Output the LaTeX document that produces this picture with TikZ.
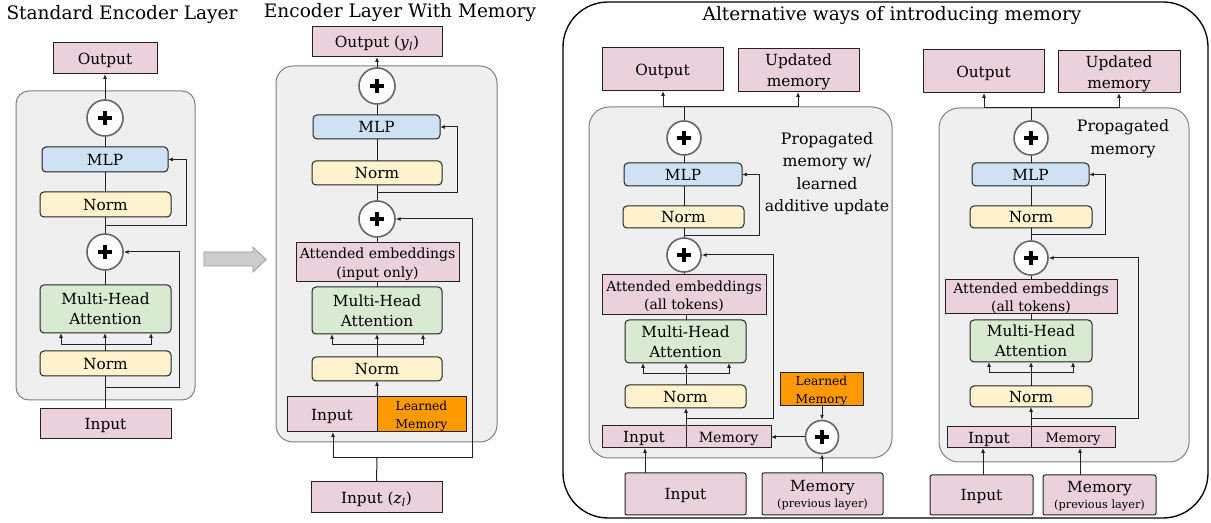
\documentclass[tikz,border=0pt]{standalone}
\usepackage{fontspec}
\setmainfont{DejaVu Serif}
\usetikzlibrary{arrows.meta}
\definecolor{pinkc}{HTML}{EAD1DC}
\definecolor{bluec}{HTML}{CFE2F3}
\definecolor{yellowc}{HTML}{FFF2CC}
\definecolor{greenc}{HTML}{D9EAD3}
\definecolor{orangec}{HTML}{FF9900}
\definecolor{contc}{HTML}{EFEFEF}
\definecolor{contb}{HTML}{808080}
\definecolor{linec}{HTML}{222222}
\definecolor{plusb}{HTML}{666666}
\definecolor{garrowf}{HTML}{CCCCCC}
\definecolor{garrowb}{HTML}{999999}
\newcommand\lblfont{\fontsize{11.5}{15}\selectfont}
\newcommand\attfont{\fontsize{10.5}{13.8}\selectfont}
\newcommand\lmfont{\fontsize{9.2}{13.7}\selectfont}
\newcommand\ttlfont{\fontsize{13.9}{16}\selectfont}
\newcommand\propfont{\fontsize{11.8}{16.9}\selectfont}
\newcommand\prevfont{\fontsize{8.5}{10}\selectfont}
\begin{document}
\begin{tikzpicture}[x=0.75pt,y=-0.75pt,
  >={Latex[length=3.6pt,width=3pt]},
  conn/.style={draw=linec, line width=0.75pt},
  cont/.style={draw=contb, fill=contc, line width=0.75pt},
  bx/.style={draw=linec, line width=0.75pt, inner sep=0pt, outer sep=0pt, align=center,
    font=\lblfont, text depth=0pt},
  sl/.style={text height=8.9pt},
  ml/.style={text height={}},
  corners/.style n args={4}{at={({(#1+#3)/2},{(#2+#4)/2})},
    minimum width={(#3-#1)*0.75pt}, minimum height={(#4-#2)*0.75pt}},
  pinkb/.style={bx, sl, fill=pinkc},
  attb/.style={bx, ml, fill=pinkc, font=\attfont},
  pinkr/.style={bx, sl, fill=pinkc, rounded corners=1.5pt},
  blueb/.style={bx, sl, fill=bluec, rounded corners=3pt},
  yellowb/.style={bx, sl, fill=yellowc, rounded corners=3pt},
  greenb/.style={bx, ml, fill=greenc, rounded corners=3pt},
  orangeb/.style={bx, ml, fill=orangec, font=\lmfont},
  plus/.style={circle, draw=plusb, fill=white, line width=1.2pt, inner sep=0pt, minimum size=#1,
    path picture={
      \draw[line width=2.3pt,black] ([xshift=-5pt]path picture bounding box.center) -- ([xshift=5pt]path picture bounding box.center);
      \draw[line width=2.3pt,black] ([yshift=-5pt]path picture bounding box.center) -- ([yshift=5pt]path picture bounding box.center);}},
  plus/.default=25.5pt,
  ttl/.style={font=\ttlfont, inner sep=0pt, anchor=base},
  ptext/.style={font=\propfont, align=center, inner sep=0pt}
]
\useasboundingbox (0,0) rectangle (1211,523);

% ================= Panel 1 =================
\node[ttl] (t1) at (122,19.3) {Standard Encoder Layer};
\draw[cont, rounded corners=9.75pt] (16,91) rectangle (195,400);
\node[pinkb, corners={53}{43}{157}{74}] (out1) {Output};
\node[plus=27pt] (p1a) at (105,118) {};
\node[blueb, corners={42}{147}{168}{172}] (mlp1) {MLP};
\node[yellowb, corners={40}{192}{171}{217}] (nrm1a) {Norm};
\node[plus=27pt] (p1b) at (105,252) {};
\node[greenb, corners={40}{285}{171}{333}] (mha1) {Multi-Head\\Attention};
\node[yellowb, corners={40}{351}{171}{376}] (nrm1b) {Norm};
\node[pinkb, corners={40}{409}{171}{439}] (in1) {Input};

\draw[conn] (in1.north -| p1b) -- (nrm1b.south -| p1b);
\coordinate (b1l) at (61,345);
\coordinate (b1r) at (151,345);
\draw[conn,->] (nrm1b.north -| p1b) -- (p1b |- mha1.south);
\draw[conn] (b1l) -- (b1r);
\draw[conn,->] (b1l) -- (b1l |- mha1.south);
\draw[conn,->] (b1r) -- (b1r |- mha1.south);
\draw[conn] (mha1.north -| p1b) -- (p1b.south);
\draw[conn] (p1b.north) -- (nrm1a.south -| p1b);
\draw[conn] (nrm1a.north -| p1b) -- (mlp1.south -| p1b);
\draw[conn] (mlp1.north -| p1b) -- (p1a.south);
\draw[conn,->] (p1a.north) -- (out1.south -| p1a);
\coordinate (s1a) at (105,226);
\coordinate (s1b) at (186,226);
\draw[conn,->] (s1a) -- (s1b) |- (mlp1.east);
\coordinate (s2a) at (105,388);
\coordinate (s2b) at (179,388);
\draw[conn,->] (s2a) -- (s2b) |- (p1b.east);

% gray block arrow
\draw[draw=garrowb, fill=garrowf, line width=0.6pt]
  (204,252) -- (253,252) -- (253,247) -- (266,259.5) -- (253,272) -- (253,266) -- (204,266) -- cycle;

% ================= Panel 2 =================
\node[ttl] (t2) at (400,17.5) {Encoder Layer With Memory};
\draw[cont, rounded corners=12.75pt] (276,66) rectangle (497,442);
\node[pinkb, corners={312}{27}{442}{57}] (out2) {Output (\textit{y}\textsubscript{\textit{l}})};
\node[plus=27pt] (p2a) at (377,86) {};
\node[blueb, corners={313}{115}{440}{139}] (mlp2) {MLP};
\node[yellowb, corners={312}{161}{442}{185}] (nrm2a) {Norm};
\node[plus=27pt] (p2b) at (377,219) {};
\node[attb, corners={296}{243}{459}{282}] (att2) {Attended embeddings\\(input only)};
\node[greenb, corners={312}{287}{442}{334}] (mha2) {Multi-Head\\Attention};
\node[yellowb, corners={312}{357}{442}{381}] (nrm2b) {Norm};
\node[pinkb, corners={287}{397}{377}{432}] (in2) {Input};
\node[orangeb, corners={377}{397}{466}{432}] (lm2) {Learned\\Memory};
\node[pinkb, corners={311}{482}{442}{513}] (inz) {Input (\textit{z}\textsubscript{\textit{l}})};

\coordinate (j2) at (377,458);
\coordinate (j2l) at (333,458);
\coordinate (j2r) at (472,458);
\draw[conn] (inz.north) -- (j2);
\draw[conn] (j2l) -- (j2r);
\draw[conn,->] (j2l) -- (j2l |- in2.south);
\draw[conn,->] (j2r) |- (p2b.east);
\draw[conn,->] (in2.north east) -- (nrm2b.south);
\coordinate (b2l) at (332,345);
\coordinate (b2r) at (423,345);
\draw[conn,->] (nrm2b.north) -- (nrm2b.north |- mha2.south);
\draw[conn] (b2l) -- (b2r);
\draw[conn,->] (b2l) -- (b2l |- mha2.south);
\draw[conn,->] (b2r) -- (b2r |- mha2.south);
\draw[conn] (mha2.north) -- (mha2.north |- att2.south);
\draw[conn] (att2.north -| p2b) -- (p2b.south);
\draw[conn] (p2b.north) -- (nrm2a.south -| p2b);
\draw[conn] (nrm2a.north -| p2b) -- (mlp2.south -| p2b);
\draw[conn] (mlp2.north -| p2b) -- (p2a.south);
\draw[conn,->] (p2a.north) -- (out2.south -| p2a);
\coordinate (s3a) at (377,193);
\coordinate (s3b) at (457,193);
\draw[conn,->] (s3a) -- (s3b) |- (mlp2.east);

% ================= Panel 3 =================
\draw[black, line width=1pt, rounded corners=33.75pt] (563,2) rectangle (1208,518);
\node[ttl] (t3) at (892,20.5) {Alternative ways of introducing memory};

% ---- 3a ----
\draw[cont, rounded corners=15pt] (589,107) rectangle (892,458);
\node[pinkb, corners={602}{48}{723}{91}] (out3a) {Output};
\node[pinkb, ml, corners={738}{49}{859}{92}, font={\fontsize{11.5}{15.5}\selectfont}] (um3a) {Updated\\memory};
\node[plus] (p3a1) at (684,138) {};
\node[ptext] (pt3a) at (827,173.5) {Propagated\\memory w/\\learned\\additive update};
\node[blueb, corners={624}{163}{742}{186}] (mlp3a) {MLP};
\node[yellowb, corners={623}{206}{744}{228}] (nrm3a1) {Norm};
\node[plus] (p3a2) at (684,255) {};
\node[attb, corners={602}{275}{766}{315}] (att3a) {Attended embeddings\\(all tokens)};
\node[greenb, corners={625}{320}{746}{363}] (mha3a) {Multi-Head\\Attention};
\node[yellowb, corners={625}{385}{746}{408}] (nrm3a2) {Norm};
\node[pinkb, corners={602}{426}{686}{448}] (in3a) {Input};
\node[pinkb, corners={686}{426}{771}{448}, font={\fontsize{10.6}{12}\selectfont}, text height=7.9pt] (mem3a) {Memory};
\node[orangeb, corners={780}{373}{863}{406}] (lm3a) {Learned\\Memory};
\node[plus=24.75pt] (p3a3) at (822,437) {};
\node[pinkr, corners={625}{473}{746}{515}] (inb3a) {Input};
\node[pinkr, ml, corners={762}{473}{883}{515}, font={\fontsize{11.5}{11.5}\selectfont}] (memb3a) {Memory\\{\prevfont(previous layer)}};

\coordinate (j3a) at (684,107);
\coordinate (j3al) at (663,107);
\coordinate (j3ar) at (798,107);
\draw[conn] (p3a1.north) -- (j3a);
\draw[conn] (j3al) -- (j3ar);
\draw[conn,->] (j3al) -- (j3al |- out3a.south);
\draw[conn,->] (j3ar) -- (j3ar |- um3a.south);
\draw[conn] (p3a1.south) -- (p3a1.south |- mlp3a.north);
\draw[conn] (mlp3a.south -| p3a1) -- (nrm3a1.north -| p3a1);
\draw[conn] (nrm3a1.south -| p3a1) -- (p3a2.north);
\coordinate (s4a) at (684,236);
\coordinate (s4b) at (759,236);
\draw[conn,->] (s4a) -- (s4b) |- (mlp3a.east);
\draw[conn] (p3a2.south) -- (p3a2.south |- att3a.north);
\coordinate (c3a) at (686,374);
\draw[conn] (att3a.south -| c3a) -- (mha3a.north -| c3a);
\coordinate (b3al) at (643,374);
\coordinate (b3ar) at (729,374);
\draw[conn,->] (nrm3a2.north -| c3a) -- (c3a |- mha3a.south);
\draw[conn] (b3al) -- (b3ar);
\draw[conn,->] (b3al) -- (b3al |- mha3a.south);
\draw[conn,->] (b3ar) -- (b3ar |- mha3a.south);
\draw[conn,->] (in3a.north east) -- (in3a.north east |- nrm3a2.south);
\coordinate (s5a) at (686,419);
\coordinate (s5b) at (773,419);
\draw[conn,->] (s5a) -- (s5b) |- (p3a2.east);
\draw[conn,->] (lm3a.south -| p3a3) -- (p3a3.north);
\draw[conn,->] (p3a3.west) -- (mem3a.east |- p3a3);
\coordinate (a3a) at (645,473);
\draw[conn,->] (a3a) -- (a3a |- in3a.south);
\draw[conn,->] (memb3a.north -| p3a3) -- (p3a3.south);

% ---- 3b ----
\draw[cont, rounded corners=15pt] (939,108) rectangle (1189,462);
\node[pinkb, corners={923}{50}{1044}{93}] (out3b) {Output};
\node[pinkb, ml, corners={1058}{51}{1180}{93}, font={\fontsize{11.5}{15.5}\selectfont}] (um3b) {Updated\\memory};
\node[plus] (p3b1) at (1031,138) {};
\node[ptext] (pt3b) at (1123,139) {Propagated\\memory};
\node[blueb, corners={972}{163}{1089}{186}] (mlp3b) {MLP};
\node[yellowb, corners={970}{206}{1092}{228}] (nrm3b1) {Norm};
\node[plus] (p3b2) at (1031,258) {};
\node[attb, corners={945}{280}{1117}{314}] (att3b) {Attended embeddings\\(all tokens)};
\node[greenb, corners={970}{320}{1092}{362}] (mha3b) {Multi-Head\\Attention};
\node[yellowb, corners={970}{386}{1092}{407}] (nrm3b2) {Norm};
\node[pinkb, corners={947}{427}{1031}{448}] (in3b) {Input};
\node[pinkb, corners={1031}{427}{1115}{448}, font={\fontsize{9.8}{11}\selectfont}, text height=7.3pt] (mem3b) {Memory};
\node[pinkr, corners={930}{475}{1033}{515}] (inb3b) {Input};
\node[pinkr, ml, corners={1043}{475}{1156}{515}, font={\fontsize{11.5}{11.5}\selectfont}] (memb3b) {Memory\\{\prevfont(previous layer)}};

\coordinate (j3b) at (1031,108);
\coordinate (j3bl) at (984,108);
\coordinate (j3br) at (1119,108);
\draw[conn] (p3b1.north) -- (j3b);
\draw[conn] (j3bl) -- (j3br);
\draw[conn,->] (j3bl) -- (j3bl |- out3b.south);
\draw[conn,->] (j3br) -- (j3br |- um3b.south);
\draw[conn] (p3b1.south) -- (p3b1.south |- mlp3b.north);
\draw[conn] (mlp3b.south -| p3b1) -- (nrm3b1.north -| p3b1);
\draw[conn] (nrm3b1.south -| p3b1) -- (p3b2.north);
\coordinate (s6a) at (1031,235);
\coordinate (s6b) at (1105,235);
\draw[conn,->] (s6a) -- (s6b) |- (mlp3b.east);
\draw[conn] (p3b2.south) -- (p3b2.south |- att3b.north);
\draw[conn] (att3b.south -| p3b2) -- (mha3b.north -| p3b2);
\coordinate (b3bl) at (989,373);
\coordinate (b3br) at (1073,373);
\draw[conn,->] (nrm3b2.north -| p3b2) -- (p3b2 |- mha3b.south);
\draw[conn] (b3bl) -- (b3br);
\draw[conn,->] (b3bl) -- (b3bl |- mha3b.south);
\draw[conn,->] (b3br) -- (b3br |- mha3b.south);
\draw[conn,->] (in3b.north east) -- (in3b.north east |- nrm3b2.south);
\coordinate (s7a) at (1031,419);
\coordinate (s7b) at (1138,419);
\draw[conn,->] (s7a) -- (s7b) |- (p3b2.east);
\coordinate (a3bl) at (983,475);
\coordinate (a3br) at (1080,475);
\draw[conn,->] (a3bl) -- (a3bl |- in3b.south);
\draw[conn,->] (a3br) -- (a3br |- mem3b.south);
\end{tikzpicture}
\end{document}
